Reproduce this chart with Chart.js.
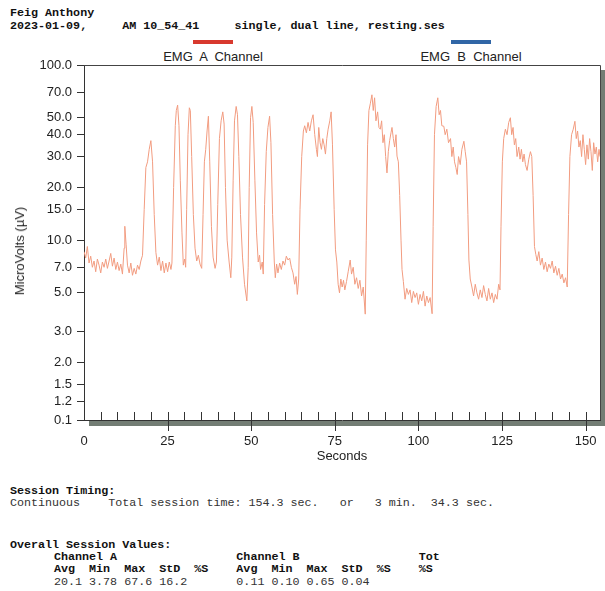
<!DOCTYPE html>
<html>
<head>
<meta charset="utf-8">
<script src="https://cdn.jsdelivr.net/npm/chart.js@4.4.1/dist/chart.umd.min.js"></script>
<style>
  body { margin: 0; background: #fff; width: 605px; height: 591px; position: relative; overflow: hidden; }
  .mono { position: absolute; font-family: "Liberation Mono", "DejaVu Sans Mono", monospace; font-size: 11.7px; line-height: 14px; white-space: pre; color: #333; }
  .b { font-weight: bold; color: #111; }
  .bar { position: absolute; height: 4px; width: 40px; }
  .lab { position: absolute; font-family: "Liberation Sans", Arial, sans-serif; font-size: 13px; line-height: 16px; white-space: pre; color: #222; transform: translateX(-50%); }
  #ytitle { position: absolute; left: 20px; top: 251px; font-family: "Liberation Sans", Arial, sans-serif; font-size: 13px; line-height: 16px; white-space: pre; color: #222; transform: translate(-50%, -50%) rotate(-90deg); }
  #wrap { position: absolute; left: 0; top: 0; width: 605px; height: 470px; }
</style>
</head>
<body>
<div class="mono b" style="left:10px;top:6px">Feig Anthony</div>
<div class="mono b" style="left:10px;top:19px">2023-01-09,     AM 10_54_41     single, dual line, resting.ses</div>
<div id="legend"></div>
<div id="wrap"><canvas id="chart" width="605" height="470"></canvas></div>
<div id="ytitle">MicroVolts (µV)</div>
<div class="mono b" style="left:10px;top:484px">Session Timing:</div>
<div class="mono" style="left:10px;top:496px">Continuous    Total session time: 154.3 sec.   or   3 min.  34.3 sec.</div>
<div class="mono b" style="left:10px;top:538px">Overall Session Values:</div>
<div class="mono b" id="chanRow" style="left:54px;top:550px"></div>
<div class="mono b" id="headRow" style="left:54px;top:562px"></div>
<div class="mono" id="valRow" style="left:54px;top:575px"></div>
<script>
// channel A trace (seconds, microvolts)
const seconds = [
  0, 0.5, 1, 1.5, 2, 2.5, 3, 3.5, 4, 4.5, 5, 5.5, 6, 6.5, 7, 7.5, 8, 8.5, 9, 9.5,
  10, 10.5, 11, 11.5, 12, 12.2, 12.6, 13, 13.5, 14, 14.5, 15, 15.5, 16, 16.5, 17, 17.5,
  18, 18.5, 19, 19.5, 20, 20.5, 21, 21.5, 22, 22.5, 23, 23.5, 24, 24.5, 25, 25.5, 26, 26.3,
  26.8, 27.3, 27.6, 28, 28.4, 28.8, 29.3, 29.7, 30.1, 30.4,
  30.7, 31.1, 31.5, 31.8, 32.2, 32.7, 33.2, 33.7, 34.2, 34.7, 35.2,
  35.6, 36, 36.4, 36.8, 37.2, 37.6, 38.1, 38.6, 39.2, 39.6,
  40, 40.5, 41, 41.5, 41.9, 42.3, 42.8, 43.4, 43.9, 44.2,
  44.6, 45, 45.5, 45.9, 46.3, 46.8, 47.4, 48, 48.7, 49.1,
  49.4, 49.8, 50.2, 50.6, 51.1, 51.6, 52.1, 52.5, 52.8, 53.3, 53.6,
  54, 54.5, 55, 55.5, 55.9, 56.4, 56.9, 57.2, 57.6, 58, 58.5, 59, 59.5, 60, 60.5, 61, 61.5,
  62, 62.5, 63, 63.4, 63.8, 64.2,
  64.6, 65.1, 65.6, 66, 66.5, 67, 67.5, 68, 68.5, 69, 69.5, 69.8, 70.2, 70.6, 71, 71.4, 71.8,
  72.2, 72.6, 73, 73.5, 73.9, 74.3, 74.8, 75.2, 75.6, 76, 76.4, 76.8, 77.2, 77.6, 78, 78.5,
  79, 79.6, 80, 80.5, 81, 81.5, 82, 82.5, 83, 83.5, 84.1,
  84.4, 84.8, 85.2, 85.6, 86.1, 86.5, 86.9, 87.3, 87.8, 88.2, 88.6, 89, 89.4, 89.8, 90.2,
  90.6, 91, 91.4, 91.8, 92.1, 92.5, 92.9, 93.3, 93.6, 94, 94.4, 94.8, 95.1, 95.5, 96, 96.5,
  97, 97.5, 98, 98.5, 99, 99.5, 100, 100.5, 101, 101.5, 102, 102.5, 103, 103.5, 104.1,
  104.4, 104.8, 105.3, 105.8, 106.2, 106.6, 107, 107.6, 108, 108.5, 109, 109.6, 110, 110.4,
  110.8, 111.2, 111.6, 112, 112.5, 113, 113.6, 114, 114.4, 114.8, 115.1, 115.5, 116, 116.5,
  117, 117.5, 118, 118.5, 119, 119.5, 120, 120.5, 121, 121.5, 122, 122.5, 123, 123.5, 124, 124.4,
  124.7, 125.1, 125.5, 126, 126.5, 127, 127.5, 127.9, 128.3, 128.7, 129.1, 129.5, 130, 130.4,
  130.8, 131.2, 131.6, 132, 132.5, 133, 133.5, 133.9, 134.3, 134.7, 135.1, 135.5, 136, 136.5,
  137, 137.5, 138, 138.5, 139, 139.5, 140, 140.5, 141, 141.5, 142, 142.5, 143, 143.5, 144, 144.5,
  144.9, 145.3, 145.8, 146.3, 146.8, 147.2, 147.6, 148, 148.4, 148.8, 149.2, 149.6, 150, 150.4,
  150.8, 151.2, 151.6, 152, 152.4, 152.8, 153.2, 153.6, 154, 154.3
];
const channelA = [
  8.6, 7.9, 9.2, 7.4, 8.1, 7.0, 7.6, 6.6, 7.8, 7.2, 6.5, 7.5, 7.0, 7.8, 6.9, 7.6, 8.4, 7.1, 7.9, 6.8,
  7.5, 6.7, 7.3, 6.4, 9.0, 12.0, 9.4, 7.2, 6.5, 7.4, 6.3, 6.9, 6.4, 7.2, 6.8, 7.6, 8.2,
  15, 26, 28, 33, 37, 28, 14, 8.5, 7.2, 8.0, 6.7, 7.6, 6.5, 7.4, 6.6, 7.5, 6.8, 7.4,
  20, 45, 55, 59, 45, 22, 11, 7.2, 7.8, 7.0,
  15, 40, 57, 55, 30, 14, 9, 7.6, 8.2, 7.3, 6.9,
  14, 28, 33, 42, 51, 28, 12, 8, 6.9, 7.5,
  16, 38, 48, 54, 46, 20, 10, 7.5, 6.1, 8,
  22, 48, 58, 52, 30, 14, 8, 5.6, 4.5, 7,
  20, 50, 58, 47, 22, 11, 7.5, 8.2, 6.8, 7.5, 6.4,
  16, 32, 44, 51, 36, 14, 7.5, 6.1, 7.3, 6.5, 7.4, 6.8, 7.6, 7.2, 8.1, 7.7, 7.9,
  7.0, 6.5, 5.6, 6.2, 4.9, 6.0,
  15, 30, 42, 45, 41, 47, 42, 48, 52, 40, 33, 30, 44, 36, 33, 38, 35,
  31, 38, 43, 48, 54, 35, 15, 8.8, 7.5, 5.6, 5.0, 6.0, 5.4, 5.9, 5.2, 5.8,
  6.6, 7.7, 6.4, 7.0, 5.6, 6.1, 5.3, 5.9, 4.8, 5.4, 3.78,
  10, 35, 55, 60, 67.6, 55, 65, 48, 54, 44, 43, 48, 36, 40, 30,
  24.2, 32, 37, 41, 44, 38, 34, 40, 30.2, 28, 18, 10, 6.8, 5.8, 4.6, 5.3,
  4.9, 5.2, 4.4, 5.1, 4.7, 5.0, 4.3, 4.9, 4.5, 5.1, 4.2, 4.8, 4.4, 4.7, 3.8,
  12, 40, 58, 65, 52, 55, 45, 44.7, 40, 43, 36, 38, 30, 34,
  28, 26, 23.7, 30, 27, 33, 36.7, 32, 28, 14, 7.7, 6.0, 5.4, 4.8,
  5.6, 5.0, 4.6, 5.2, 4.7, 5.5, 4.9, 4.5, 5.3, 4.6, 5.0, 4.4, 4.9, 4.6, 5.6, 5.2,
  12, 28, 38, 43, 40, 47, 50, 40, 44, 35, 38, 30, 34, 29,
  33, 28, 31, 27, 25, 29, 32, 30, 18, 9.2, 8.3, 7.6, 8.6, 7.2,
  7.9, 6.8, 7.5, 6.6, 7.3, 6.9, 7.6, 6.5, 7.1, 6.3, 6.9, 6.0, 6.4, 5.7, 6.1, 5.4,
  14, 30, 40, 43, 47.7, 38, 42, 34, 37, 30, 40, 33, 27, 35,
  29, 38, 32, 25, 36, 31, 34, 28, 33, 30
];

const yTickValues = [100, 70, 50, 40, 30, 20, 15, 10, 7, 5, 3, 2, 1.5, 1.2, 0.94];
const yTickLabels = ["100.0", "70.0", "50.0", "40.0", "30.0", "20.0", "15.0", "10.0", "7.0", "5.0", "3.0", "2.0", "1.5", "1.2", "0.1"];
const xTickValues = [0, 25, 50, 75, 100, 125, 150];
const sessionSeconds = 154.3;

const channelNames = ["EMG  A  Channel", "EMG  B  Channel"];
const channelColors = ["#d8392e", "#3166a6"];
const legendCenters = [213, 471];

const statHeads = ["Avg", "Min", "Max", "StD", "%S"];
const statsA = ["20.1", "3.78", "67.6", "16.2", ""];
const statsB = ["0.11", "0.10", "0.65", "0.04", ""];

// legend bars + labels
const legend = document.getElementById("legend");
channelNames.forEach((name, i) => {
  const bar = document.createElement("div");
  bar.className = "bar";
  bar.style.left = (legendCenters[i] - 20) + "px";
  bar.style.top = "40px";
  bar.style.background = channelColors[i];
  legend.appendChild(bar);
  const lab = document.createElement("div");
  lab.className = "lab";
  lab.style.left = legendCenters[i] + "px";
  lab.style.top = "49px";
  lab.textContent = name;
  legend.appendChild(lab);
});

// stats table text
const cells = (arr) => arr.map((s) => s.padEnd(5)).join("");
document.getElementById("chanRow").textContent =
  "Channel A".padEnd(26) + "Channel B".padEnd(26) + "Tot";
document.getElementById("headRow").textContent =
  cells(statHeads).padEnd(26) + cells(statHeads).padEnd(26) + "%S";
document.getElementById("valRow").textContent =
  cells(statsA).padEnd(26) + cells(statsB);

const frame = {
  id: "frame",
  afterDraw(chart) {
    const { ctx, chartArea: a, scales } = chart;
    ctx.save();
    // drop shadow
    ctx.fillStyle = "#737d74";
    ctx.fillRect(a.left + 5, a.bottom + 1, a.right - a.left + 1, 5);
    ctx.fillRect(a.right + 1, a.top + 5, 5, a.bottom - a.top + 1);
    // top and right frame
    ctx.strokeStyle = "#444";
    ctx.lineWidth = 1;
    ctx.beginPath();
    ctx.moveTo(a.left, a.top + 0.5);
    ctx.lineTo(a.right + 0.5, a.top + 0.5);
    ctx.lineTo(a.right + 0.5, a.bottom);
    ctx.stroke();
    // inward x ticks every 5 s
    ctx.strokeStyle = "#333";
    ctx.beginPath();
    for (let s = 5; s <= 150; s += 5) {
      const x = Math.round(scales.x.getPixelForValue(s)) + 0.5;
      ctx.moveTo(x, a.bottom - 8);
      ctx.lineTo(x, s % 25 === 0 ? a.bottom + 11 : a.bottom);
    }
    ctx.stroke();
    ctx.restore();
  }
};

new Chart(document.getElementById("chart"), {
  type: "line",
  data: {
    datasets: [{
      label: "EMG A Channel",
      data: seconds.map((s, i) => ({ x: s, y: channelA[i] })),
      borderColor: "#f29c80",
      borderWidth: 1,
      pointRadius: 0,
      tension: 0
    }]
  },
  options: {
    responsive: false,
    animation: false,
    devicePixelRatio: 1,
    layout: { padding: { top: 65, right: 5, left: 0, bottom: 0 } },
    plugins: { legend: { display: false }, tooltip: { enabled: false } },
    scales: {
      x: {
        type: "linear",
        min: 0,
        max: sessionSeconds,
        afterBuildTicks: (scale) => { scale.ticks = xTickValues.map((v) => ({ value: v })); },
        afterFit: (scale) => { scale.height = 50; },
        grid: { display: false },
        border: { display: true, color: "#333", width: 1 },
        ticks: {
          autoSkip: false,
          maxRotation: 0,
          padding: 6,
          color: "#222",
          font: { family: "'Liberation Sans', Arial, sans-serif", size: 13 }
        },
        title: {
          display: true,
          text: "Seconds",
          color: "#222",
          padding: { top: 0, bottom: 6 },
          font: { family: "'Liberation Sans', Arial, sans-serif", size: 13 }
        }
      },
      y: {
        type: "logarithmic",
        min: 0.94,
        max: 100,
        afterBuildTicks: (scale) => { scale.ticks = yTickValues.map((v) => ({ value: v })); },
        afterFit: (scale) => { scale.width = 84; },
        grid: { drawOnChartArea: false, tickLength: 7, color: "#333" },
        border: { display: true, color: "#333", width: 1 },
        ticks: {
          autoSkip: false,
          padding: 5,
          color: "#222",
          font: { family: "'Liberation Sans', Arial, sans-serif", size: 13 },
          callback: (value, index) => yTickLabels[index]
        }
      }
    }
  },
  plugins: [frame]
});
</script>
</body>
</html>
